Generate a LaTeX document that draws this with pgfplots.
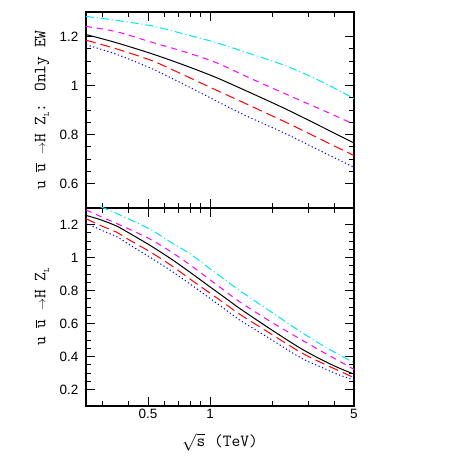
\documentclass[border=0pt]{standalone}
\usepackage{pgfplots}
\pgfplotsset{compat=1.18}
\usepackage{fontspec}
\newfontfamily\ticksf{Liberation Sans}
\pgfkeys{/pgf/number format/assume math mode=true}
\definecolor{ccy}{RGB}{0,230,240}
\definecolor{cmg}{RGB}{255,0,255}

\pgfplotsset{
  mypanel/.style={
    scale only axis, width=268pt,
    xmin=0.25, xmax=5,
    xtick={0.5,1,5}, minor xtick={0.3,0.4,0.6,0.7,0.8,0.9,2,3,4},
    xtick pos=both, ytick pos=both, tick align=inside,
    xticklabel pos=lower, yticklabel pos=left,
    major tick length=9pt, minor tick length=5pt,
    every tick/.style={black, line width=0.8pt},
    axis line style={line width=1.2pt},
    minor y tick num=3,
    tick label style={font=\ticksf\fontsize{13.5}{15}\selectfont},
    yticklabel style={xshift=-4pt},
    label style={font=\ttfamily\fontsize{17}{19}\selectfont},
    ylabel style={at={(axis description cs:-0.164,0.5)}, anchor=center},
    every axis plot/.append style={line width=1pt, smooth},
  },
  cblack/.style={black, solid},
  cred/.style={red, dash pattern=on 10pt off 5pt},
  cmag/.style={cmg, dash pattern=on 6pt off 5pt},
  ccyan/.style={ccy, dash pattern=on 8pt off 3pt on 1pt off 3pt},
  cblue/.style={blue, dash pattern=on 1.2pt off 2.5pt},
}

\newcommand{\ubar}{\ensuremath{\overline{\hbox{\ttfamily u}}}}
\newcommand{\arr}{\ensuremath{\scriptstyle\rightarrow}}
\newcommand{\ZL}{Z\raisebox{-0.5ex}{\fontsize{8}{8}\selectfont L}}

\begin{document}
\begin{tikzpicture}
% keep the white margins of the original figure
\path[use as bounding box] (-86pt,-57pt) rectangle (377pt,406pt);

% top panel: electroweak corrections only
\begin{axis}[xmode=log, mypanel, at={(0,198pt)}, anchor=south west, height=196pt,
    ymin=0.5, ymax=1.3, ytick={0.6,0.8,1,1.2},
    xticklabels={},
    ylabel={u \ubar{} \arr{}H \ZL: Only EW}]
  \addplot[ccyan] coordinates {(0.25,1.282)(0.35,1.266)(0.524,1.243)(0.75,1.21)(1.061,1.176)(1.5,1.135)(2.32,1.081)(3.4,1.02)(5,0.947)};
  \addplot[cmag] coordinates {(0.25,1.241)(0.35,1.22)(0.524,1.176)(0.75,1.138)(1.061,1.095)(1.5,1.037)(2.32,0.966)(3.4,0.905)(5,0.842)};
  \addplot[cblack] coordinates {(0.25,1.208)(0.35,1.175)(0.524,1.129)(0.75,1.083)(1.061,1.034)(1.5,0.978)(2.32,0.905)(3.4,0.836)(5,0.765)};
  \addplot[cred] coordinates {(0.25,1.185)(0.35,1.15)(0.524,1.101)(0.75,1.042)(1.061,0.983)(1.5,0.925)(2.32,0.851)(3.4,0.783)(5,0.714)};
  \addplot[cblue] coordinates {(0.25,1.166)(0.35,1.128)(0.524,1.068)(0.75,1.004)(1.061,0.939)(1.5,0.876)(2.32,0.804)(3.4,0.735)(5,0.666)};
\end{axis}

% bottom panel: full corrections
\begin{axis}[xmode=log, mypanel, at={(0,0)}, anchor=south west, height=198pt,
    ymin=0.1, ymax=1.3, ytick={0.2,0.4,0.6,0.8,1,1.2},
    xticklabels={0.5,1,5},
    xlabel={\ensuremath{\sqrt{\hbox{\ttfamily s}}} (TeV)},
    xlabel style={at={(axis description cs:0.5,-0.182)}, anchor=center},
    ylabel={u \ubar{} \arr{}H \ZL}]
  \addplot[ccyan] coordinates {(0.25,1.33)(0.305,1.30)(0.4,1.235)(0.514,1.17)(0.65,1.09)(0.803,1.021)(1,0.932)(1.186,0.864)(1.402,0.797)(1.96,0.674)(2.74,0.552)(3.5,0.469)(4.2,0.413)(5,0.363)};
  \addplot[cmag] coordinates {(0.25,1.288)(0.294,1.249)(0.4,1.175)(0.514,1.11)(0.65,1.033)(0.803,0.954)(1,0.865)(1.186,0.796)(1.402,0.729)(1.96,0.613)(2.74,0.506)(3.5,0.43)(4.2,0.375)(5,0.322)};
  \addplot[cblack] coordinates {(0.25,1.255)(0.294,1.229)(0.35,1.192)(0.4,1.152)(0.514,1.072)(0.65,0.99)(0.803,0.909)(1,0.822)(1.186,0.755)(1.402,0.689)(1.96,0.567)(2.74,0.451)(3.5,0.379)(4.2,0.332)(5,0.293)};
  \addplot[cred] coordinates {(0.25,1.235)(0.294,1.194)(0.35,1.155)(0.4,1.111)(0.514,1.033)(0.65,0.951)(0.803,0.868)(1,0.784)(1.186,0.719)(1.402,0.654)(1.96,0.54)(2.74,0.427)(3.5,0.36)(4.2,0.315)(5,0.272)};
  \addplot[cblue] coordinates {(0.25,1.21)(0.294,1.168)(0.35,1.128)(0.4,1.083)(0.514,1.0)(0.65,0.918)(0.803,0.838)(1,0.752)(1.186,0.685)(1.402,0.619)(1.96,0.507)(2.74,0.394)(3.5,0.333)(4.2,0.29)(5,0.257)};
\end{axis}
\end{tikzpicture}
\end{document}
